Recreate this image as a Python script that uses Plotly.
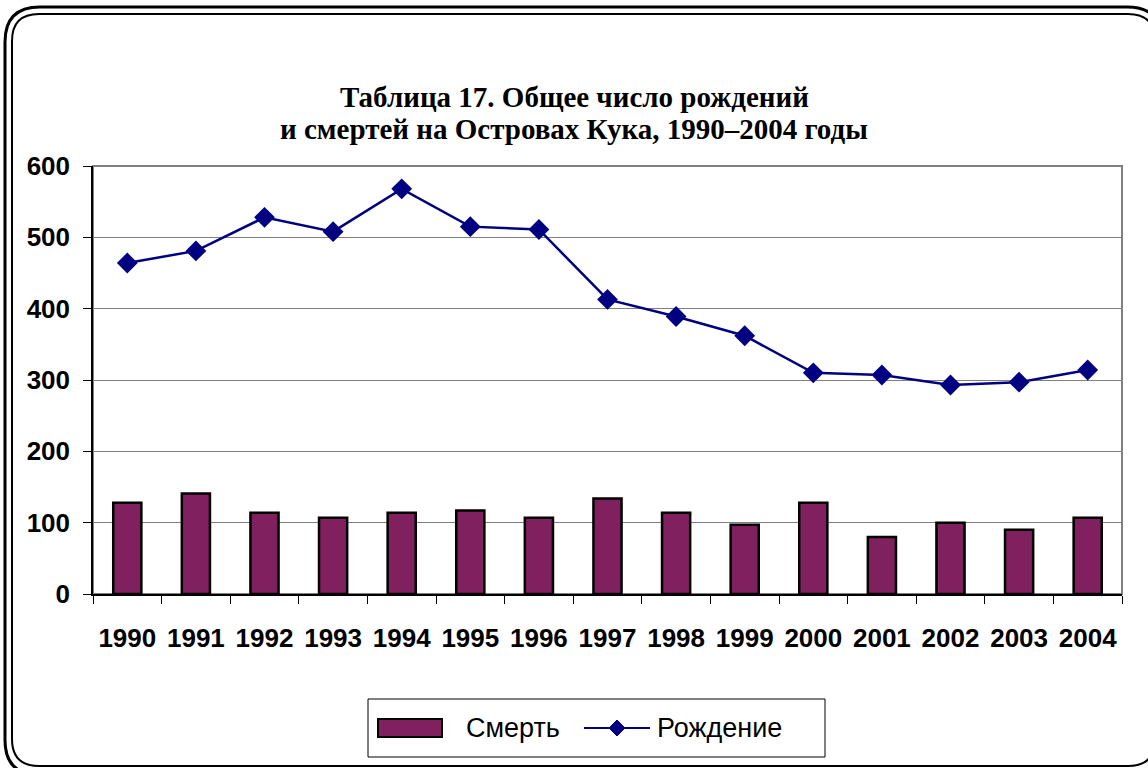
import plotly.graph_objects as go

years = ["1990", "1991", "1992", "1993", "1994", "1995", "1996", "1997",
         "1998", "1999", "2000", "2001", "2002", "2003", "2004"]
deaths = [128, 141, 114, 107, 114, 117, 107, 134, 114, 97, 128, 80, 100, 90, 107]
births = [464, 481, 528, 508, 568, 515, 511, 413, 389, 362, 310, 307, 293, 297, 314]
y_ticks = [0, 100, 200, 300, 400, 500, 600]

BAR_COLOR = "#80205F"
LINE_COLOR = "#000080"

W, H = 1148, 768
L, R, T, B = 93, 1122, 166, 594


def px(x):
    return (x - L) / (R - L)


def py(y):
    return (B - y) / (B - T)


def rrect(x0, y0, x1, y1, r):
    pts = [
        f"M {px(x0 + r)},{py(y0)}",
        f"L {px(x1 - r)},{py(y0)}",
        f"Q {px(x1)},{py(y0)} {px(x1)},{py(y0 + r)}",
        f"L {px(x1)},{py(y1 - r)}",
        f"Q {px(x1)},{py(y1)} {px(x1 - r)},{py(y1)}",
        f"L {px(x0 + r)},{py(y1)}",
        f"Q {px(x0)},{py(y1)} {px(x0)},{py(y1 - r)}",
        f"L {px(x0)},{py(y0 + r)}",
        f"Q {px(x0)},{py(y0)} {px(x0 + r)},{py(y0)}",
        "Z",
    ]
    return " ".join(pts)


def diamond(cx, cy, r):
    return (f"M {px(cx)},{py(cy - r)} L {px(cx + r)},{py(cy)} "
            f"L {px(cx)},{py(cy + r)} L {px(cx - r)},{py(cy)} Z")


fig = go.Figure()
fig.add_trace(go.Bar(
    x=years, y=deaths, name="Смерть",
    marker=dict(color=BAR_COLOR, line=dict(color="black", width=2.5)),
))
fig.add_trace(go.Scatter(
    x=years, y=births, name="Рождение", mode="lines+markers",
    line=dict(color=LINE_COLOR, width=2.5),
    marker=dict(symbol="diamond", size=16, color=LINE_COLOR),
))

shapes = [
    # plot area border (top/right gray)
    dict(type="rect", xref="paper", yref="paper", x0=0, y0=0, x1=1, y1=1,
         line=dict(color="#808080", width=2), layer="below"),
    # outer chart frame (double line)
    dict(type="path", xref="paper", yref="paper",
         path=rrect(5, 7, 1162, 775, 35), line=dict(color="black", width=3)),
    dict(type="path", xref="paper", yref="paper",
         path=rrect(12, 14, 1155, 766, 27), line=dict(color="black", width=2)),
    # custom legend
    dict(type="rect", xref="paper", yref="paper",
         x0=px(368), x1=px(825), y0=py(699), y1=py(757),
         line=dict(color="black", width=1), fillcolor="white"),
    dict(type="rect", xref="paper", yref="paper",
         x0=px(378), x1=px(442), y0=py(719), y1=py(737),
         line=dict(color="black", width=2), fillcolor=BAR_COLOR),
    dict(type="line", xref="paper", yref="paper",
         x0=px(584), x1=px(650), y0=py(728), y1=py(728),
         line=dict(color=LINE_COLOR, width=2)),
    dict(type="path", xref="paper", yref="paper", path=diamond(617, 728, 8),
         line=dict(color=LINE_COLOR, width=1), fillcolor=LINE_COLOR),
]

title_font = dict(family="Liberation Serif", size=29, color="black", weight="bold")
legend_font = dict(family="Liberation Sans", size=27, color="black")

annotations = [
    dict(text="Таблица 17. Общее число рождений", xref="paper", yref="paper",
         x=px(574), y=py(97), xanchor="center", yanchor="middle", showarrow=False,
         font=title_font),
    dict(text="и смертей на Островах Кука, 1990–2004 годы", xref="paper", yref="paper",
         x=px(574), y=py(129), xanchor="center", yanchor="middle", showarrow=False,
         font=title_font),
    dict(text="Смерть", xref="paper", yref="paper",
         x=px(464), y=py(728), xanchor="left", yanchor="middle", showarrow=False,
         font=legend_font),
    dict(text="Рождение", xref="paper", yref="paper",
         x=px(655), y=py(728), xanchor="left", yanchor="middle", showarrow=False,
         font=legend_font),
]

fig.update_layout(
    width=W, height=H,
    margin=dict(l=L, r=W - R, t=T, b=H - B, autoexpand=False),
    paper_bgcolor="white", plot_bgcolor="white",
    bargap=0.59,
    showlegend=False,
    shapes=shapes,
    annotations=annotations,
    font=dict(family="Liberation Sans", color="black"),
)

fig.update_xaxes(
    type="category", range=[-0.5, len(years) - 0.5],
    tickson="boundaries", ticks="outside", ticklen=8, tickangle=0,
    tickcolor="black", showline=True, linecolor="black", linewidth=1.5,
    showgrid=False, ticklabelstandoff=20,
    tickfont=dict(family="Liberation Sans", size=26, color="black", weight="bold"),
)
fig.update_yaxes(
    range=[0, 600], tickvals=y_ticks, ticks="outside", ticklen=8,
    tickcolor="black", showline=True, linecolor="black", linewidth=1.5,
    showgrid=True, gridcolor="#808080", gridwidth=1, zeroline=False,
    ticklabelstandoff=8,
    tickfont=dict(family="Liberation Sans", size=26, color="black", weight="bold"),
)

fig.write_html(
    "out.html",
    config={"displayModeBar": False},
    post_script="document.body.style.margin='0';document.body.style.overflow='hidden';",
)
